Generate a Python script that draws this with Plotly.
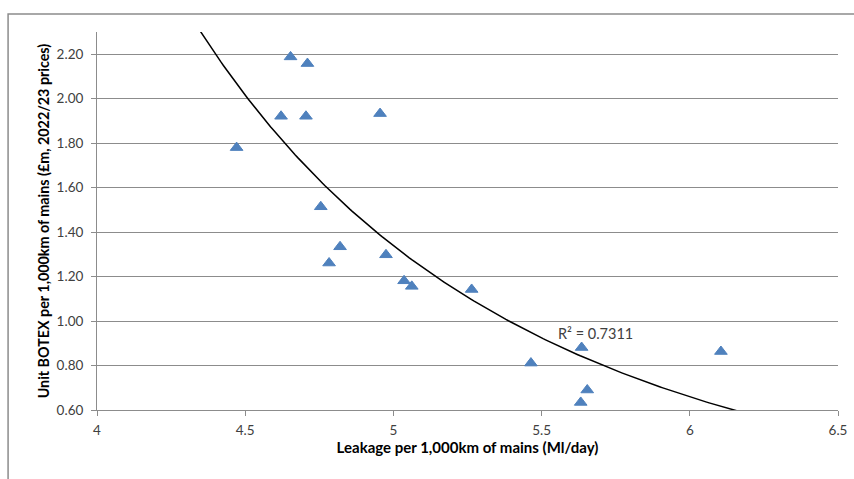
import numpy as np
import plotly.graph_objects as go

# Data
leakage = [4.471, 4.653, 4.710, 4.621, 4.705, 4.955, 4.755, 4.820, 4.783,
           4.975, 5.036, 5.062, 5.264, 5.464, 5.635, 5.654, 5.632, 6.105]
unit_botex = [1.780, 2.188, 2.158, 1.921, 1.921, 1.933, 1.514, 1.334, 1.261,
              1.298, 1.181, 1.156, 1.142, 0.811, 0.881, 0.690, 0.634, 0.863]
x_ticks = [4, 4.5, 5, 5.5, 6, 6.5]
x_tick_labels = ["4", "4.5", "5", "5.5", "6", "6.5"]
y_ticks = [0.6, 0.8, 1.0, 1.2, 1.4, 1.6, 1.8, 2.0, 2.2]
y_tick_labels = ["0.60", "0.80", "1.00", "1.20", "1.40", "1.60", "1.80", "2.00", "2.20"]
r2_label = "R² = 0.7311"

# Power trendline y = a * x^b, coefficients
trend_a = 697.0
trend_b = -3.8865
trend_x = np.linspace(4.0, 6.5, 300)
trend_y = trend_a * trend_x ** trend_b

FONT = "Lato"
GRID = "#8c8c8c"

fig = go.Figure()
fig.add_trace(go.Scatter(
    x=trend_x, y=trend_y, mode="lines",
    line=dict(color="black", width=1.5), hoverinfo="skip", showlegend=False,
))
fig.add_trace(go.Scatter(
    x=leakage, y=unit_botex, mode="markers",
    marker=dict(symbol="triangle-up", size=11, color="#4F81BD",
                line=dict(width=1, color="#4F81BD")),
    showlegend=False,
))

fig.add_annotation(x=5.682, y=0.944, xref="x", yref="y", text=r2_label,
                   showarrow=False, font=dict(family=FONT, size=14.5, color="#404040"))

# outer chart border
fig.add_shape(type="rect", xref="paper", yref="paper",
              x0=-0.120, x1=1.03, y0=-0.2, y1=1.0476,
              line=dict(color="#8c8c8c", width=1.5), layer="below")

fig.update_xaxes(
    range=[4, 6.5], tickvals=x_ticks, ticktext=x_tick_labels,
    showgrid=False, zeroline=False, showline=True, linecolor=GRID, linewidth=1,
    ticks="outside", ticklen=5, tickcolor=GRID, ticklabelstandoff=3,
    tickfont=dict(family=FONT, size=13.5, color="#404040"),
    title=dict(text="<b>Leakage per 1,000km of mains (Ml/day)</b>",
               font=dict(family=FONT, size=15, color="black"), standoff=5),
)
fig.update_yaxes(
    range=[0.6, 2.3], tickvals=y_ticks, ticktext=y_tick_labels,
    showgrid=True, gridcolor=GRID, gridwidth=1, zeroline=False,
    showline=True, linecolor=GRID, linewidth=1,
    ticks="outside", ticklen=5, tickcolor=GRID, ticklabelstandoff=5,
    tickfont=dict(family=FONT, size=13.5, color="#404040"),
    title=dict(text="<b>Unit BOTEX per 1,000km of mains (£m, 2022/23 prices)</b>",
               font=dict(family=FONT, size=14.3, color="black"), standoff=3),
)

fig.update_layout(
    width=854, height=479,
    margin=dict(l=97, r=16, t=32, b=69, autoexpand=False),
    paper_bgcolor="white", plot_bgcolor="white",
    font=dict(family=FONT),
)

fig.write_html("out.html", config={"displayModeBar": False},
               post_script="document.body.style.margin='0px';")
